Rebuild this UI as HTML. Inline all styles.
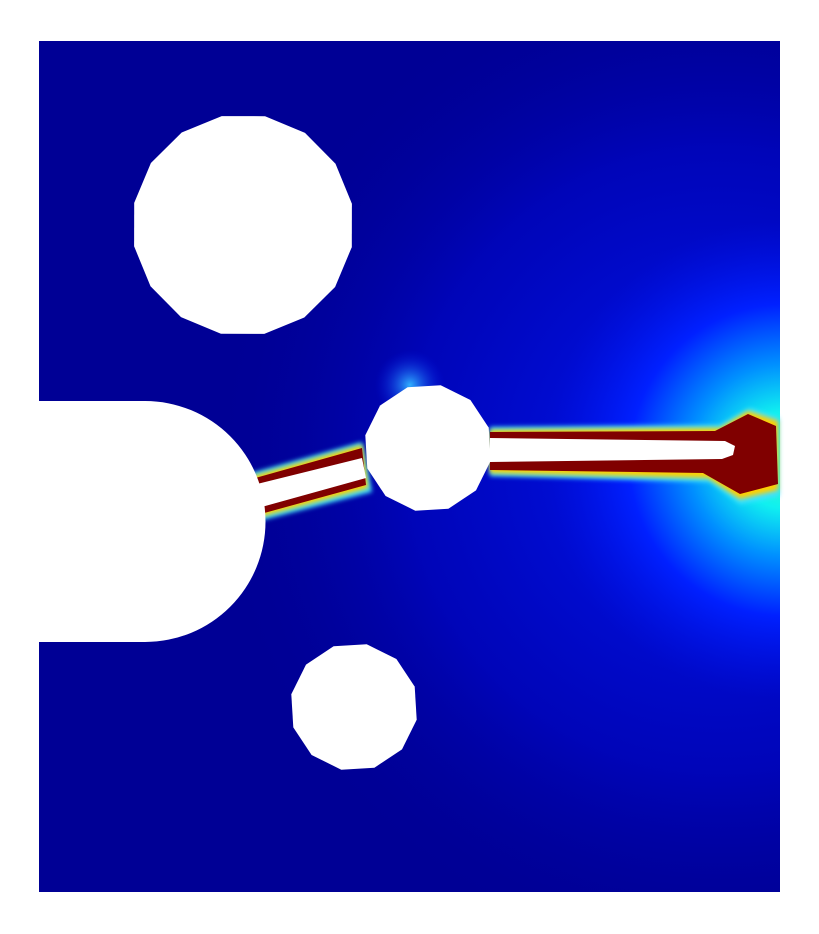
<!DOCTYPE html>
<html><head><meta charset="utf-8"><style>
html,body{margin:0;padding:0;background:#fff;width:819px;height:934px;overflow:hidden}
svg{display:block}
</style></head><body>
<svg id="chart" width="819" height="934" viewBox="0 0 819 934" xmlns="http://www.w3.org/2000/svg">
<defs>
<radialGradient id="hot" cx="785" cy="460" r="240" gradientUnits="userSpaceOnUse">
<stop offset="0" stop-color="#40ffb0"/>
<stop offset="0.2" stop-color="#10f0f0"/>
<stop offset="0.4" stop-color="#0090ff"/>
<stop offset="0.65" stop-color="#0020ff"/>
<stop offset="1" stop-color="#0010e0" stop-opacity="0"/>
</radialGradient>
<radialGradient id="glow" cx="720" cy="460" r="520" gradientUnits="userSpaceOnUse">
<stop offset="0" stop-color="#0018f8"/>
<stop offset="0.6" stop-color="#0008d0" stop-opacity="0.6"/>
<stop offset="1" stop-color="#000090" stop-opacity="0"/>
</radialGradient>
<radialGradient id="spot" cx="410" cy="385" r="35" gradientUnits="userSpaceOnUse">
<stop offset="0" stop-color="#30b0ff"/>
<stop offset="1" stop-color="#0010e0" stop-opacity="0"/>
</radialGradient>
<filter id="blur"><feGaussianBlur stdDeviation="2.5"/></filter>
</defs>
<rect x="39" y="41" width="741" height="851" fill="#000095"/>
<rect x="39" y="41" width="741" height="851" fill="url(#glow)"/>
<rect x="39" y="41" width="741" height="851" fill="url(#hot)"/>
<circle cx="410" cy="385" r="35" fill="url(#spot)"/>
<g id="cracks"></g>
<g id="holes"></g>
</svg>
<script>
const holeNames=['upper-hole','middle-hole','lower-hole'];
const holeCx=[243,428,354];
const holeCy=[225,448,707];
const holeR=[111,64,64];
const ns='http://www.w3.org/2000/svg';
const cracks=document.getElementById('cracks');
const holes=document.getElementById('holes');
function poly(g,pts,fill,name,filt){const p=document.createElementNS(ns,'polygon');p.setAttribute('points',pts);p.setAttribute('fill',fill);if(filt)p.setAttribute('filter',filt);


g.appendChild(p);}
poly(cracks,'248,474 362,442 372,492 255,522','#40e0ff','left-crack-halo','url(#blur)');
poly(cracks,'490,427 720,425 750,408 779,418 779,496 740,504 710,482 490,476','#40e0ff','right-crack-halo','url(#blur)');
poly(cracks,'250,477 362,445 368,488 256,518','#ffd000','left-crack-yellow','url(#blur)');
poly(cracks,'490,430 720,428 748,411 778,421 778,490 740,499 708,478 490,473','#ffd000','right-crack-yellow','url(#blur)');
poly(cracks,'252,479 362,448 366,485 257,515','#800000','left-crack-damage');
poly(cracks,'490,432 715,431 748,414 776,426 778,484 740,494 703,473 490,470','#800000','right-crack-damage');
poly(cracks,'253,485 362,458 366,478 258,508','#ffffff','left-crack-opening');
poly(cracks,'490,438 725,441 735,446 733,455 722,459 490,462','#ffffff','right-crack-opening');
const notch=document.createElementNS(ns,'path');
notch.setAttribute('d','M0,401 L145,401 A120,120 0 0 1 145,642 L0,642 Z');
notch.setAttribute('fill','#ffffff');


holes.appendChild(notch);
for(let i=0;i<holeCx.length;i++){
 const n=i===0?16:12;let pts=[];
 for(let k=0;k<n;k++){const a=2*Math.PI*k/n+0.2;pts.push((holeCx[i]+holeR[i]*Math.cos(a)).toFixed(1)+','+(holeCy[i]+holeR[i]*Math.sin(a)).toFixed(1));}
 const p=document.createElementNS(ns,'polygon');p.setAttribute('points',pts.join(' '));p.setAttribute('fill','#ffffff');
 
 
 holes.appendChild(p);
}
</script>
</body></html>
